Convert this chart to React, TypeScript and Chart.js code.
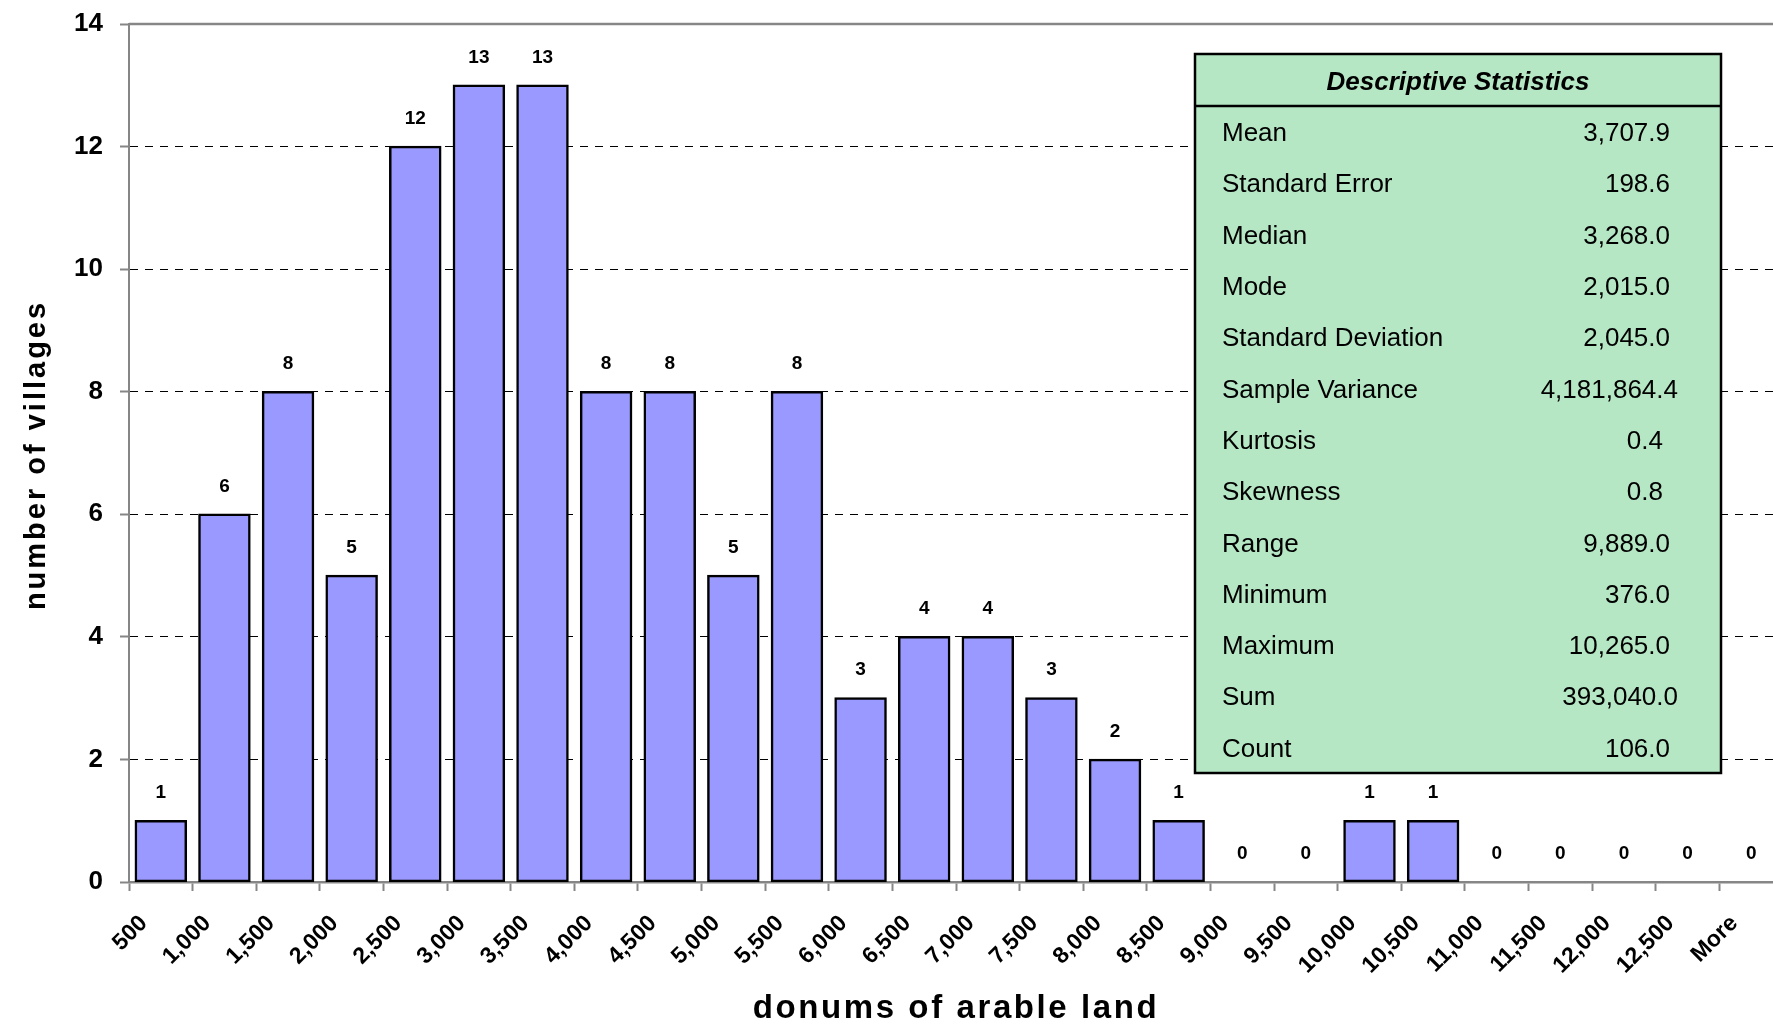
import React, { useEffect, useRef } from 'react';
import { Chart, registerables } from 'chart.js';

Chart.register(...registerables);

// ---------- data ----------
const categories = [
  '500', '1,000', '1,500', '2,000', '2,500', '3,000', '3,500', '4,000', '4,500',
  '5,000', '5,500', '6,000', '6,500', '7,000', '7,500', '8,000', '8,500', '9,000',
  '9,500', '10,000', '10,500', '11,000', '11,500', '12,000', '12,500', 'More',
];
const villages = [1, 6, 8, 5, 12, 13, 13, 8, 8, 5, 8, 3, 4, 4, 3, 2, 1, 0, 0, 1, 1, 0, 0, 0, 0, 0];
const yMin = 0;
const yMax = 14;
const yStep = 2;

const statsTitle = 'Descriptive Statistics';
const statLabels = [
  'Mean', 'Standard Error', 'Median', 'Mode', 'Standard Deviation', 'Sample Variance',
  'Kurtosis', 'Skewness', 'Range', 'Minimum', 'Maximum', 'Sum', 'Count',
];
const statValues = [
  '3,707.9', '198.6', '3,268.0', '2,015.0', '2,045.0', '4,181,864.4',
  '0.4', '0.8', '9,889.0', '376.0', '10,265.0', '393,040.0', '106.0',
];
const xTitle = 'donums of arable land';
const yTitle = 'number of villages';

// ---------- styles ----------
const FONT = '"Liberation Sans", Arial, Helvetica, sans-serif';
const BAR_FILL = '#9999FF';
const AXIS_GRAY = '#868686';
const BOX_FILL = '#B5E7C4';

const overlayPlugin = {
  id: 'overlay',
  afterDatasetsDraw(chart: any) {
    const ctx: CanvasRenderingContext2D = chart.ctx;
    const area = chart.chartArea;
    ctx.save();

    // top border of plot area
    ctx.strokeStyle = AXIS_GRAY;
    ctx.lineWidth = 2.5;
    ctx.beginPath();
    ctx.moveTo(area.left, area.top);
    ctx.lineTo(area.right, area.top);
    ctx.stroke();

    // data labels
    const meta = chart.getDatasetMeta(0);
    ctx.fillStyle = '#000';
    ctx.font = `bold 19px ${FONT}`;
    ctx.textAlign = 'center';
    ctx.textBaseline = 'middle';
    meta.data.forEach((bar: any, i: number) => {
      ctx.fillText(String(villages[i]), bar.x, bar.y - 28);
    });

    // statistics box
    const bx = 1195, by = 54, bw = 526, bh = 719, hh = 52;
    ctx.fillStyle = BOX_FILL;
    ctx.fillRect(bx, by, bw, bh);
    ctx.strokeStyle = '#000';
    ctx.lineWidth = 2.5;
    ctx.strokeRect(bx, by, bw, bh);
    ctx.beginPath();
    ctx.moveTo(bx, by + hh);
    ctx.lineTo(bx + bw, by + hh);
    ctx.stroke();

    ctx.fillStyle = '#000';
    ctx.font = `italic bold 26px ${FONT}`;
    ctx.textAlign = 'center';
    ctx.textBaseline = 'middle';
    ctx.fillText(statsTitle, bx + bw / 2, by + 29);

    const nudge: Record<string, number> = {
      'Sample Variance': 8, Sum: 8, Kurtosis: -7, Skewness: -7,
    };
    ctx.font = `26px ${FONT}`;
    const rowTop = 134, rowGap = 51.3;
    statLabels.forEach((lab, i) => {
      const y = rowTop + i * rowGap;
      ctx.textAlign = 'left';
      ctx.fillText(lab, bx + 27, y);
      ctx.textAlign = 'right';
      ctx.fillText(statValues[i], 1670 + (nudge[lab] || 0), y);
    });

    // axis titles
    ctx.font = `bold 33px ${FONT}`;
    (ctx as any).letterSpacing = '2.6px';
    ctx.textAlign = 'center';
    ctx.textBaseline = 'alphabetic';
    ctx.fillText(xTitle, 956, 1018);

    ctx.font = `bold 29px ${FONT}`;
    (ctx as any).letterSpacing = '3px';
    ctx.translate(37, 455);
    ctx.rotate(-Math.PI / 2);
    ctx.textBaseline = 'middle';
    ctx.fillText(yTitle, 0, 0);
    (ctx as any).letterSpacing = '0px';

    ctx.restore();
  },
};

export default function App() {
  const canvasRef = useRef<HTMLCanvasElement | null>(null);

  useEffect(() => {
    const canvas = canvasRef.current;
    if (!canvas) return;
    const chart = new Chart(canvas, {
      type: 'bar',
      data: {
        labels: categories,
        datasets: [
          {
            data: villages,
            backgroundColor: (c: any) => (c.raw === 0 ? 'rgba(0,0,0,0)' : BAR_FILL),
            borderColor: '#000',
            borderWidth: (c: any) => (c.raw === 0 ? 0 : 2.5),
            borderSkipped: false,
            inflateAmount: (c: any) => (c.raw === 0 ? 0 : 0.8),
            barPercentage: 0.8,
            categoryPercentage: 1,
          },
        ],
      },
      options: {
        responsive: false,
        animation: false,
        devicePixelRatio: 1,
        layout: { padding: { left: 0, right: 17, top: 24, bottom: 0 } },
        plugins: {
          legend: { display: false },
          tooltip: { enabled: false },
          title: { display: false },
        },
        scales: {
          x: {
            offset: true,
            grid: {
              offset: true,
              drawOnChartArea: false,
              drawTicks: true,
              tickLength: 9,
              tickColor: AXIS_GRAY,
              tickWidth: 2,
            },
            border: { display: true, color: AXIS_GRAY, width: 2.5 },
            ticks: {
              autoSkip: false,
              maxRotation: 45,
              minRotation: 45,
              padding: 19,
              labelOffset: -17,
              color: '#000',
              font: { family: FONT, size: 23, weight: 'bold' },
            },
            afterFit: (s: any) => {
              s.height = 148;
              s.paddingLeft = 0;
              s.paddingRight = 0;
            },
          },
          y: {
            min: yMin,
            max: yMax,
            ticks: {
              stepSize: yStep,
              padding: 17,
              color: '#000',
              font: { family: FONT, size: 26, weight: 'bold' },
            },
            grid: {
              color: (c: any) =>
                c.tick && (c.tick.value === yMin || c.tick.value === yMax) ? 'rgba(0,0,0,0)' : '#000',
              lineWidth: 1,
              tickLength: 9,
              tickColor: AXIS_GRAY,
              tickWidth: 2,
            },
            border: { display: true, color: AXIS_GRAY, width: 2, dash: [8, 7] },
            afterFit: (s: any) => {
              s.width = 129;
              s.paddingTop = 0;
              s.paddingBottom = 0;
            },
          },
        },
      },
      plugins: [overlayPlugin],
    });
    return () => chart.destroy();
  }, []);

  return (
    <div style={{ position: 'absolute', left: 0, top: 0, width: 1773, height: 1030, overflow: 'hidden', background: '#fff' }}>
      <canvas ref={canvasRef} width={1800} height={1030} style={{ width: 1800, height: 1030, display: 'block' }} />
    </div>
  );
}
